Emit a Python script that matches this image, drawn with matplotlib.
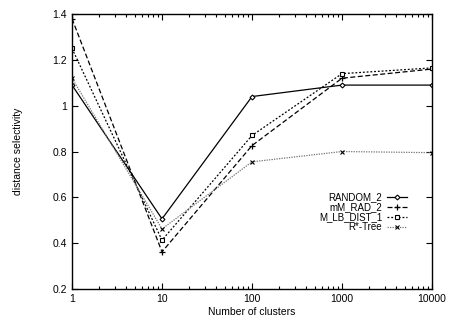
import numpy as np
import matplotlib
matplotlib.use("Agg")
import matplotlib.pyplot as plt
from matplotlib.ticker import FixedLocator, LogLocator, NullFormatter

plt.rcParams['font.family'] = ['Liberation Sans', 'DejaVu Sans']

clusters = [1, 10, 100, 1000, 10000]
random_2 = [1.09, 0.506, 1.04, 1.09, 1.09]
mm_rad_2 = [1.38, 0.362, 0.826, 1.12, 1.16]
m_lb_dist_1 = [1.25, 0.413, 0.870, 1.14, 1.165]
rstar_tree = [1.12, 0.462, 0.755, 0.80, 0.795]

yticks = [0.2, 0.4, 0.6, 0.8, 1.0, 1.2, 1.4]
ytick_labels = ['0.2', '0.4', '0.6', '0.8', '1', '1.2', '1.4']
xtick_labels = ['1', '10', '100', '1000', '10000']

fig = plt.figure(figsize=(4.5, 3.2), dpi=100)
ax = fig.add_axes([0.16, 0.097, 0.80, 0.859])

fs = 7.5
ax.plot(clusters, random_2, color='black', linestyle='-', linewidth=0.9,
        marker='D', markersize=2.5, markerfacecolor='white', markeredgewidth=0.8,
        label='RANDOM_2')
ax.plot(clusters, mm_rad_2, color='black', linestyle=(0, (4, 2)), linewidth=0.9,
        marker='+', markersize=4.5, markeredgewidth=0.9, label='mM_RAD_2')
ax.plot(clusters, m_lb_dist_1, color='black', linestyle=(0, (1.5, 1.5)), linewidth=0.9,
        marker='s', markersize=3.5, markerfacecolor='white', markeredgewidth=0.8,
        label='M_LB_DIST_1')
ax.plot(clusters, rstar_tree, color='0.45', linestyle=(0, (1, 1)), linewidth=0.9,
        marker='x', markersize=3.5, markeredgecolor='black', markeredgewidth=0.8,
        label='R*-Tree')

ax.set_xscale('log')
ax.set_xlim(1, 10000)
ax.set_ylim(0.2, 1.4)
ax.xaxis.set_major_locator(FixedLocator(clusters))
ax.set_xticklabels(xtick_labels)
ax.xaxis.set_minor_locator(LogLocator(base=10, subs=np.arange(2, 10)))
ax.xaxis.set_minor_formatter(NullFormatter())
ax.set_yticks(yticks)
ax.set_yticklabels(ytick_labels)

ax.tick_params(which='both', direction='in', top=True, right=True, labelsize=fs, width=0.8)
ax.tick_params(which='major', length=4)
ax.tick_params(which='minor', length=2)
for s in ax.spines.values():
    s.set_linewidth(1.0)

ax.set_xlabel('Number of clusters', fontsize=fs, labelpad=2)
ax.set_ylabel('distance selectivity', fontsize=fs, labelpad=21)

leg = ax.legend(loc='upper right', bbox_to_anchor=(0.945, 0.37), frameon=False,
                markerfirst=False, fontsize=7, handlelength=2.1,
                labelspacing=0.0, handletextpad=0.5, borderpad=0)
for col in leg._legend_handle_box.get_children():
    col.align = 'right'

fig.savefig('out.png', dpi=100)
